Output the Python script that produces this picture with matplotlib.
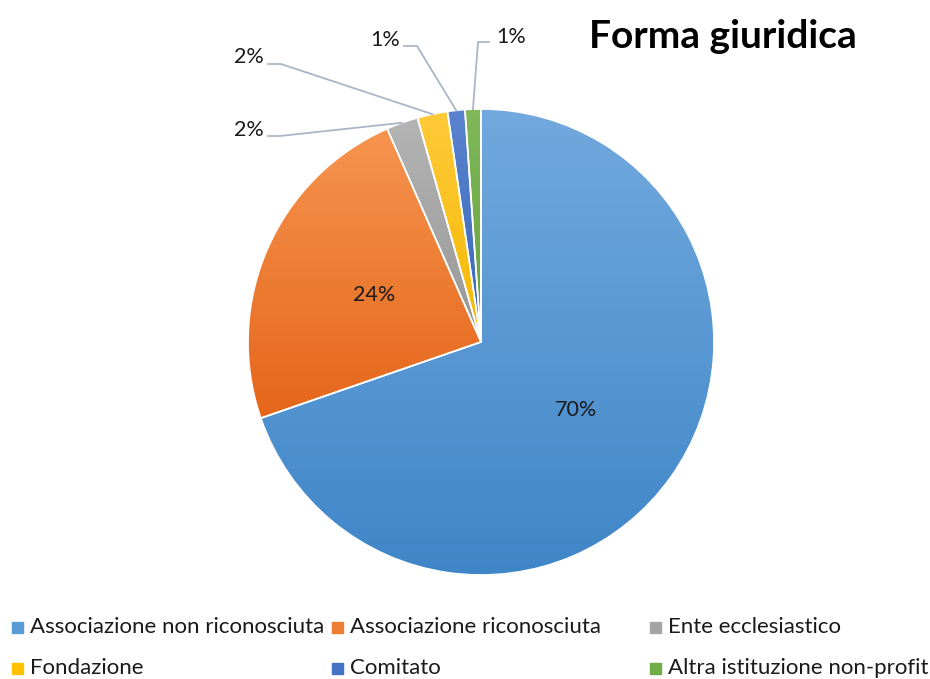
import numpy as np
import matplotlib
matplotlib.use("Agg")
import matplotlib.pyplot as plt
from matplotlib.colors import to_rgb
from matplotlib.patches import Rectangle

plt.rcParams["font.family"] = ["Lato", "DejaVu Sans"]

labels = [
    "Associazione non riconosciuta",
    "Associazione riconosciuta",
    "Ente ecclesiastico",
    "Fondazione",
    "Comitato",
    "Altra istituzione non-profit",
]
# shares in percent
values = [69.7, 23.7, 2.2, 2.1, 1.2, 1.1]
top_colors = ["#72a9de", "#f6944f", "#b4b4b4", "#ffca3a", "#5a84cf", "#80b85a"]
bottom_colors = ["#3f86c8", "#e5661a", "#979797", "#f5b800", "#3a66b8", "#64a03c"]
base_colors = ["#5b9bd5", "#ed7d31", "#a5a5a5", "#ffc000", "#4472c4", "#70ad47"]

W, H = 930, 679
fig = plt.figure(figsize=(W / 100, H / 100), dpi=100)
ax = fig.add_axes([0, 0, 1, 1])

cx, cy, r = 481, H - 342, 233
wedges, _ = ax.pie(values, colors=base_colors, startangle=90, counterclock=False,
                   center=(cx, cy), radius=r, frame=True,
                   wedgeprops=dict(edgecolor="white", linewidth=1.2))
ax.set_xlim(0, W)
ax.set_ylim(0, H)
ax.set_aspect("equal")
ax.axis("off")

# office-style vertical gradient inside each slice
for w, c_top, c_bot in zip(wedges, top_colors, bottom_colors):
    bb = w.get_path().get_extents()
    t = np.linspace(0, 1, 256)[:, None]
    grad = (1 - t) * np.array(to_rgb(c_bot)) + t * np.array(to_rgb(c_top))
    img = grad[:, None, :].repeat(2, axis=1)
    im = ax.imshow(img, extent=[bb.x0, bb.x1, bb.y0, bb.y1], origin="lower",
                   aspect="auto", zorder=w.get_zorder() + 0.1)
    im.set_clip_path(w)
    w.set_facecolor("none")
    w.set_zorder(w.get_zorder() + 0.2)

pct_labels = [f"{v:.0f}%" for v in values]

# inside labels for the two big slices
for w, txt in zip(wedges[:2], pct_labels[:2]):
    ang = np.deg2rad((w.theta1 + w.theta2) / 2)
    ax.text(cx + 0.5 * r * np.cos(ang), cy + 0.5 * r * np.sin(ang), txt,
            ha="center", va="center", fontsize=15.5, color="#1a1a1a", zorder=5)

# outside labels with leader lines (label position, elbow position)
lead_col = "#aab6c8"
label_pos = [(249, H - 130), (249, H - 57), (385, H - 40), (511, H - 37)]
elbow_pos = [(280, H - 136), (281, H - 64), (417, H - 46), (478, H - 42)]
for w, txt, (lx, ly), (ex, ey) in zip(wedges[2:], pct_labels[2:], label_pos, elbow_pos):
    ang = np.deg2rad((w.theta1 + w.theta2) / 2)
    px, py = cx + r * np.cos(ang), cy + r * np.sin(ang)
    start_x = lx + 19 if lx < cx else lx - 22
    ax.plot([start_x, ex, px], [ey, ey, py], color=lead_col, lw=1.3, zorder=4)
    ax.text(lx, ly, txt, ha="center", va="center", fontsize=15.5, color="#1a1a1a")

fig.text(589 / W, 1 - 36 / H, "Forma giuridica", ha="left", va="center",
         fontsize=28, fontweight="bold", color="black")

# legend, 3 columns x 2 rows
col_x = [12, 332, 650]
row_y = [627, 668]
for i, (lab, col) in enumerate(zip(labels, base_colors)):
    x, y = col_x[i % 3], row_y[i // 3]
    ax.add_patch(Rectangle((x, H - y - 5.5), 11, 11, color=col, clip_on=False))
    ax.text(x + 18, H - y, lab, ha="left", va="center", fontsize=16, color="#1a1a1a")

fig.savefig("out.png", dpi=100)
